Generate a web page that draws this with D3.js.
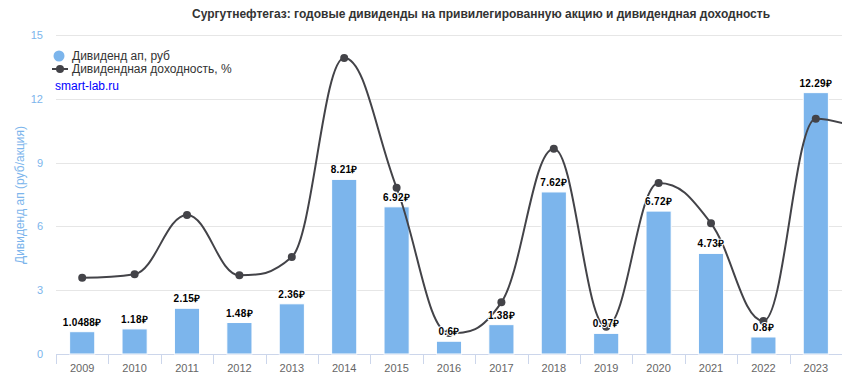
<!DOCTYPE html>
<html>
<head>
<meta charset="utf-8">
<script src="https://cdn.jsdelivr.net/npm/d3@7"></script>
<style>
  body { margin: 0; background: #fff; }
  svg { font-family: "Liberation Sans", Arial, sans-serif; display: block; }
</style>
</head>
<body>
<div id="chart"></div>
<script>
// categories and values
const years = ["2009", "2010", "2011", "2012", "2013", "2014", "2015", "2016",
               "2017", "2018", "2019", "2020", "2021", "2022", "2023"];
const dividends = [1.0488, 1.18, 2.15, 1.48, 2.36, 8.21, 6.92, 0.6,
                   1.38, 7.62, 0.97, 6.72, 4.73, 0.8, 12.29];
const dividendLabels = ["1.0488₽", "1.18₽", "2.15₽", "1.48₽", "2.36₽", "8.21₽", "6.92₽", "0.6₽",
                        "1.38₽", "7.62₽", "0.97₽", "6.72₽", "4.73₽", "0.8₽", "12.29₽"];
// dividend yield, % (hidden axis); last value belongs to the next year, off the chart
const yieldYears = ["2009", "2010", "2011", "2012", "2013", "2014", "2015", "2016",
                    "2017", "2018", "2019", "2020", "2021", "2022", "2023", "2024"];
const yields = [5.98, 6.25, 10.89, 6.17, 7.6, 23.2, 13.03, 1.65,
                4.05, 16.09, 2.14, 13.4, 10.24, 2.59, 18.44, 17.4];
const yTicks = [0, 3, 6, 9, 12, 15];

const titleText = "Сургутнефтегаз: годовые дивиденды на привилегированную акцию и дивидендная доходность";

// Set margin, width, height
const W = 842, H = 378;
const margin = {top: 35, right: 0, bottom: 24, left: 56};
const width = W - margin.left - margin.right;
const height = 354 - margin.top;

const barColor = "#7cb5ec";
const lineColor = "#434348";

const svg = d3.select("#chart").append("svg")
    .attr("width", W)
    .attr("height", H);

// Title
svg.append("text")
    .attr("x", 481)
    .attr("y", 18)
    .attr("text-anchor", "middle")
    .style("font-size", "12px")
    .style("font-weight", "bold")
    .style("fill", "#333")
    .text(titleText);

const g = svg.append("g")
    .attr("transform", "translate(" + margin.left + "," + margin.top + ")");

// scales
const x = d3.scaleBand().domain(years).range([0, width]);
const y = d3.scaleLinear().domain([0, 15]).range([height, 0]);
const yYield = d3.scaleLinear().domain([0, 25]).range([height, 0]);

// gridlines
g.append("g")
    .selectAll("line")
    .data(yTicks.filter(d => d > 0))
    .enter()
    .append("line")
    .attr("x1", 0)
    .attr("x2", width)
    .attr("y1", d => Math.round(y(d)) + 0.5)
    .attr("y2", d => Math.round(y(d)) + 0.5)
    .attr("stroke", "#e6e6e6");

// Y axis
const yAxis = g.append("g")
    .call(d3.axisLeft(y).tickValues(yTicks).tickSize(0).tickPadding(13));
yAxis.select(".domain").remove();
yAxis.selectAll(".tick text")
    .style("font-size", "11px")
    .style("fill", barColor)
    .style("font-family", "'Liberation Sans', Arial, sans-serif");

svg.append("text")
    .attr("transform", "translate(24," + 195 + ") rotate(-90)")
    .attr("text-anchor", "middle")
    .style("font-size", "12px")
    .style("fill", barColor)
    .text("Дивиденд ап (руб/акция)");

// X axis
const xAxis = g.append("g")
    .attr("transform", "translate(0," + height + ")")
    .call(d3.axisBottom(x).tickSize(0).tickPadding(10));
xAxis.select(".domain")
    .attr("stroke", "#ccd6eb")
    .attr("d", "M0,0.5H" + width);
xAxis.selectAll(".tick text")
    .style("font-size", "11px")
    .style("fill", "#666")
    .style("font-family", "'Liberation Sans', Arial, sans-serif");
// tick marks between categories
xAxis.selectAll(".cat-tick")
    .data(years)
    .enter()
    .append("line")
    .attr("x1", d => Math.round(x(d)) + 0.5)
    .attr("x2", d => Math.round(x(d)) + 0.5)
    .attr("y1", 0)
    .attr("y2", 10)
    .attr("stroke", "#ccd6eb");

// bars
const barW = x.bandwidth() * 0.48;
g.selectAll(".bar")
    .data(years)
    .enter()
    .append("rect")
    .attr("x", (d) => x(d) + (x.bandwidth() - barW) / 2)
    .attr("y", (d, i) => y(dividends[i]))
    .attr("width", barW)
    .attr("height", (d, i) => y(0) - y(dividends[i]))
    .attr("fill", barColor)
    .attr("stroke", "#fff")
    .attr("stroke-width", 1);

// Highcharts-like spline through the yield points
const pts = yieldYears.map((d, i) => ({
    x: x.step() * i + x.bandwidth() / 2,
    y: yYield(yields[i])
}));

function splinePath(points) {
    const smoothing = 1.5, denom = smoothing + 1;
    const p = d3.path();
    points.forEach((pt, i) => {
        const last = points[i - 1], next = points[i + 1];
        let lcx = pt.x, lcy = pt.y;
        if (last && next) {
            lcx = (smoothing * pt.x + last.x) / denom;
            lcy = (smoothing * pt.y + last.y) / denom;
            let rcx = (smoothing * pt.x + next.x) / denom;
            let rcy = (smoothing * pt.y + next.y) / denom;
            let corr = 0;
            if (rcx !== lcx) {
                corr = ((rcy - lcy) * (rcx - pt.x)) / (rcx - lcx) + pt.y - rcy;
            }
            lcy += corr;
            rcy += corr;
            if (lcy > last.y && lcy > pt.y) {
                lcy = Math.max(last.y, pt.y);
                rcy = 2 * pt.y - lcy;
            } else if (lcy < last.y && lcy < pt.y) {
                lcy = Math.min(last.y, pt.y);
                rcy = 2 * pt.y - lcy;
            }
            if (rcy > next.y && rcy > pt.y) {
                rcy = Math.max(next.y, pt.y);
                lcy = 2 * pt.y - rcy;
            } else if (rcy < next.y && rcy < pt.y) {
                rcy = Math.min(next.y, pt.y);
                lcy = 2 * pt.y - rcy;
            }
            pt.rcx = rcx;
            pt.rcy = rcy;
        }
        if (i === 0) {
            p.moveTo(pt.x, pt.y);
        } else {
            p.bezierCurveTo(
                last.rcx !== undefined ? last.rcx : last.x,
                last.rcy !== undefined ? last.rcy : last.y,
                lcx, lcy, pt.x, pt.y);
        }
    });
    return p.toString();
}

g.append("path")
    .attr("d", splinePath(pts))
    .attr("fill", "none")
    .attr("stroke", lineColor)
    .attr("stroke-width", 2);

g.selectAll(".marker")
    .data(pts.slice(0, years.length))
    .enter()
    .append("circle")
    .attr("cx", d => d.x)
    .attr("cy", d => d.y)
    .attr("r", 4)
    .attr("fill", lineColor);

// bar value labels
g.selectAll(".lbl")
    .data(years)
    .enter()
    .append("text")
    .attr("x", d => x(d) + x.bandwidth() / 2)
    .attr("y", (d, i) => y(dividends[i]) - 6)
    .attr("text-anchor", "middle")
    .style("font-size", "10px")
    .style("font-weight", "bold")
    .style("letter-spacing", "0.3px")
    .style("fill", "#000")
    .style("stroke", "#fff")
    .style("stroke-width", 2)
    .style("paint-order", "stroke")
    .style("stroke-linejoin", "round")
    .text((d, i) => dividendLabels[i]);

// legend
const legend = svg.append("g").attr("transform", "translate(52,0)");
legend.append("circle")
    .attr("cx", 7)
    .attr("cy", 56)
    .attr("r", 5.5)
    .attr("fill", barColor);
legend.append("text")
    .attr("x", 20)
    .attr("y", 60)
    .style("font-size", "12px")
    .style("fill", "#333")
    .text("Дивиденд ап, руб");
legend.append("line")
    .attr("x1", 0)
    .attr("x2", 16)
    .attr("y1", 69)
    .attr("y2", 69)
    .attr("stroke", lineColor)
    .attr("stroke-width", 2);
legend.append("circle")
    .attr("cx", 8)
    .attr("cy", 69)
    .attr("r", 4)
    .attr("fill", lineColor);
legend.append("text")
    .attr("x", 20)
    .attr("y", 73)
    .style("font-size", "12px")
    .style("fill", "#333")
    .text("Дивидендная доходность, %");

svg.append("text")
    .attr("x", 55)
    .attr("y", 90)
    .style("font-size", "12px")
    .style("fill", "#0000ff")
    .text("smart-lab.ru");
</script>
</body>
</html>
